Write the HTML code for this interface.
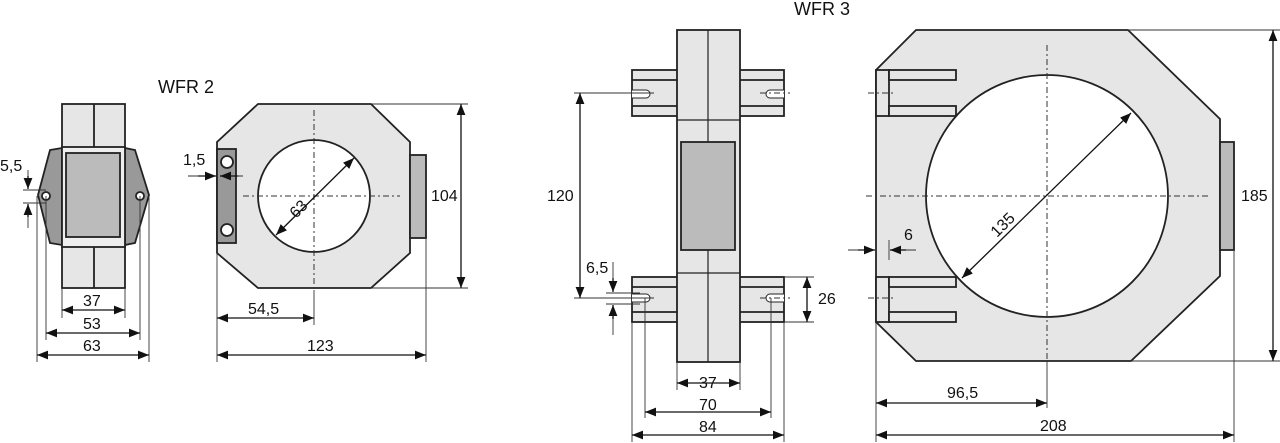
<!DOCTYPE html>
<html><head><style>body{margin:0;background:#fff}svg{display:block}text{font-family:"Liberation Sans",sans-serif;font-size:16px;fill:#111}</style></head><body>
<svg width="1280" height="443" viewBox="0 0 1280 443" xmlns="http://www.w3.org/2000/svg">
<defs>
<marker id="a" viewBox="0 0 10 10" refX="10" refY="5" markerWidth="11" markerHeight="11" markerUnits="userSpaceOnUse" orient="auto-start-reverse"><path d="M0,1L10,5L0,9z" fill="#111"/></marker>
</defs>
<g stroke="#222" stroke-width="1.8">
<rect x="62" y="104" width="63" height="184" fill="#e6e6e6"/>
<line x1="94" y1="104" x2="94" y2="288"/>
<path d="M62,148 L50,150 L38,195 L50,243 L62,245 Z" fill="#999"/>
<path d="M125,148 L135,150 L149,195 L135,243 L125,245 Z" fill="#999"/>
<rect x="62" y="147" width="63" height="100" fill="#eee"/>
<rect x="66" y="153" width="54" height="84" fill="#bbb"/>
<circle cx="46" cy="196" r="4" fill="#fff"/><circle cx="140" cy="196" r="4" fill="#fff"/>
<path d="M258,104 L371,104 L410,142 L410,253 L371,288 L258,288 L217,253 L217,142 Z" fill="#e6e6e6"/>
<rect x="410" y="155" width="16" height="83" fill="#bbb"/>
<rect x="217" y="149" width="19" height="94" fill="#999"/>
<circle cx="227" cy="162" r="6" fill="#fff"/><circle cx="227" cy="230" r="6" fill="#fff"/>
<circle cx="314" cy="196" r="56" fill="#fff"/>
<rect x="632" y="70" width="152" height="46" fill="#e6e6e6"/>
<rect x="632" y="277" width="152" height="45" fill="#e6e6e6"/>
<line x1="632" y1="80" x2="677" y2="80"/><line x1="632" y1="106" x2="677" y2="106"/>
<line x1="740" y1="80" x2="784" y2="80"/><line x1="740" y1="106" x2="784" y2="106"/>
<line x1="632" y1="287" x2="677" y2="287"/><line x1="632" y1="312" x2="677" y2="312"/>
<line x1="740" y1="287" x2="784" y2="287"/><line x1="740" y1="312" x2="784" y2="312"/>
<path d="M632,90 H646 A4,4 0 0 1 646,98 H632" fill="#fff" stroke-width="1"/>
<path d="M784,90 H770 A4,4 0 0 0 770,98 H784" fill="#fff" stroke-width="1"/>
<path d="M632,294 H646 A4,4 0 0 1 646,302 H632" fill="#fff" stroke-width="1"/>
<path d="M784,294 H770 A4,4 0 0 0 770,302 H784" fill="#fff" stroke-width="1"/>
<rect x="677" y="30" width="63" height="332" fill="#e6e6e6"/>
<line x1="708" y1="30" x2="708" y2="362" stroke-width="1.2"/>
<line x1="677" y1="120" x2="740" y2="120" stroke-width="1.2"/><line x1="677" y1="273" x2="740" y2="273" stroke-width="1.2"/>
<rect x="681" y="142" width="54" height="108" fill="#bbb"/>
<path d="M916,30 L1128,30 L1220,119 L1220,276 L1131,361 L916,361 L876,322 L876,70 Z" fill="#e6e6e6"/>
<rect x="1220" y="142" width="14" height="108" fill="#bbb"/>
<rect x="876" y="70" width="13" height="46" fill="#e6e6e6"/>
<rect x="876" y="277" width="13" height="45" fill="#e6e6e6"/>
<rect x="889" y="70" width="67" height="10" fill="#e6e6e6"/><rect x="889" y="106" width="67" height="10" fill="#e6e6e6"/>
<rect x="889" y="277" width="67" height="10" fill="#e6e6e6"/><rect x="889" y="312" width="67" height="10" fill="#e6e6e6"/>
<circle cx="1047" cy="196" r="121" fill="#fff"/>
</g>
<g stroke="#333" stroke-width="1" stroke-dasharray="6,3,2,3" fill="none">
<line x1="314" y1="110" x2="314" y2="290"/><line x1="243" y1="196" x2="400" y2="196"/>
<line x1="1047" y1="45" x2="1047" y2="360"/><line x1="866" y1="196" x2="1210" y2="196"/>
<line x1="620" y1="93" x2="655" y2="93"/><line x1="760" y1="93" x2="790" y2="93"/>
<line x1="620" y1="298" x2="655" y2="298"/><line x1="760" y1="298" x2="790" y2="298"/>
<line x1="868" y1="93" x2="895" y2="93"/><line x1="868" y1="298" x2="895" y2="298"/>
</g>
<g stroke="#333" stroke-width="0.9" fill="none">
<line x1="62" y1="288" x2="62" y2="318"/><line x1="125" y1="288" x2="125" y2="318"/>
<line x1="46" y1="196" x2="46" y2="340"/><line x1="140" y1="196" x2="140" y2="340"/>
<line x1="37" y1="196" x2="37" y2="362"/><line x1="149" y1="196" x2="149" y2="362"/>
<line x1="23" y1="190" x2="46" y2="190"/><line x1="23" y1="203" x2="46" y2="203"/>
<line x1="28" y1="170" x2="28" y2="189"/><line x1="28" y1="204" x2="28" y2="228"/>
<line x1="371" y1="104" x2="468" y2="104"/><line x1="371" y1="288" x2="468" y2="288"/>
<line x1="217" y1="253" x2="217" y2="362"/><line x1="426" y1="238" x2="426" y2="362"/>
<line x1="314" y1="290" x2="314" y2="325"/>
<line x1="188" y1="176" x2="216" y2="176"/><line x1="220" y1="176" x2="243" y2="176"/>
<line x1="574" y1="93" x2="648" y2="93"/><line x1="574" y1="298" x2="648" y2="298"/>
<line x1="606" y1="293" x2="640" y2="293"/><line x1="606" y1="304" x2="640" y2="304"/>
<line x1="613" y1="262" x2="613" y2="292"/><line x1="613" y1="305" x2="613" y2="335"/>
<line x1="784" y1="277" x2="814" y2="277"/><line x1="784" y1="322" x2="814" y2="322"/>
<line x1="677" y1="362" x2="677" y2="390"/><line x1="740" y1="362" x2="740" y2="390"/>
<line x1="645" y1="298" x2="645" y2="418"/><line x1="771" y1="298" x2="771" y2="418"/>
<line x1="632" y1="322" x2="632" y2="442"/><line x1="784" y1="322" x2="784" y2="442"/>
<line x1="1128" y1="30" x2="1280" y2="30"/><line x1="1131" y1="361" x2="1280" y2="361"/>
<line x1="876" y1="322" x2="876" y2="442"/><line x1="1234" y1="250" x2="1234" y2="442"/>
<line x1="1047" y1="360" x2="1047" y2="408"/><line x1="889" y1="240" x2="889" y2="260"/>
<line x1="848" y1="250" x2="875" y2="250"/><line x1="890" y1="250" x2="916" y2="250"/>
</g>
<g stroke="#111" stroke-width="1.3" fill="none" marker-end="url(#a)">
<line x1="62" y1="310" x2="125" y2="310" marker-start="url(#a)"/>
<line x1="46" y1="333" x2="140" y2="333" marker-start="url(#a)"/>
<line x1="37" y1="355" x2="149" y2="355" marker-start="url(#a)"/>
<line x1="28" y1="176" x2="28" y2="189"/><line x1="28" y1="217" x2="28" y2="204"/>
<line x1="461" y1="104" x2="461" y2="288" marker-start="url(#a)"/>
<line x1="217" y1="318" x2="314" y2="318" marker-start="url(#a)"/>
<line x1="217" y1="355" x2="426" y2="355" marker-start="url(#a)"/>
<line x1="276" y1="235" x2="354" y2="158" marker-start="url(#a)"/>
<line x1="198" y1="176" x2="216" y2="176"/><line x1="238" y1="176" x2="220" y2="176"/>
<line x1="580" y1="93" x2="580" y2="298" marker-start="url(#a)"/>
<line x1="613" y1="278" x2="613" y2="292"/><line x1="613" y1="319" x2="613" y2="305"/>
<line x1="807" y1="277" x2="807" y2="322" marker-start="url(#a)"/>
<line x1="677" y1="383" x2="740" y2="383" marker-start="url(#a)"/>
<line x1="645" y1="412" x2="771" y2="412" marker-start="url(#a)"/>
<line x1="632" y1="435" x2="784" y2="435" marker-start="url(#a)"/>
<line x1="1273" y1="30" x2="1273" y2="361" marker-start="url(#a)"/>
<line x1="876" y1="403" x2="1047" y2="403" marker-start="url(#a)"/>
<line x1="876" y1="435" x2="1234" y2="435" marker-start="url(#a)"/>
<line x1="962" y1="278" x2="1131" y2="113" marker-start="url(#a)"/>
<line x1="858" y1="250" x2="875" y2="250"/><line x1="906" y1="250" x2="890" y2="250"/>
</g>
<text x="158" y="93" style="font-size:18px">WFR 2</text>
<text x="794" y="15" style="font-size:18px">WFR 3</text>
<text x="0" y="171">5,5</text>
<text x="83" y="306">37</text><text x="83" y="329">53</text><text x="83" y="351">63</text>
<text x="183" y="165">1,5</text>
<text x="431" y="201">104</text>
<text x="248" y="314">54,5</text>
<text x="307" y="351">123</text>
<text transform="translate(296,219) rotate(-45)">63</text>
<text x="547" y="201">120</text>
<text x="586" y="273">6,5</text>
<text x="818" y="304">26</text>
<text x="699" y="388">37</text><text x="699" y="410">70</text><text x="699" y="432">84</text>
<text x="1241" y="201">185</text>
<text x="904" y="240">6</text>
<text x="947" y="398">96,5</text>
<text x="1040" y="431">208</text>
<text transform="translate(997,238) rotate(-45)">135</text>
</svg>
</body></html>
